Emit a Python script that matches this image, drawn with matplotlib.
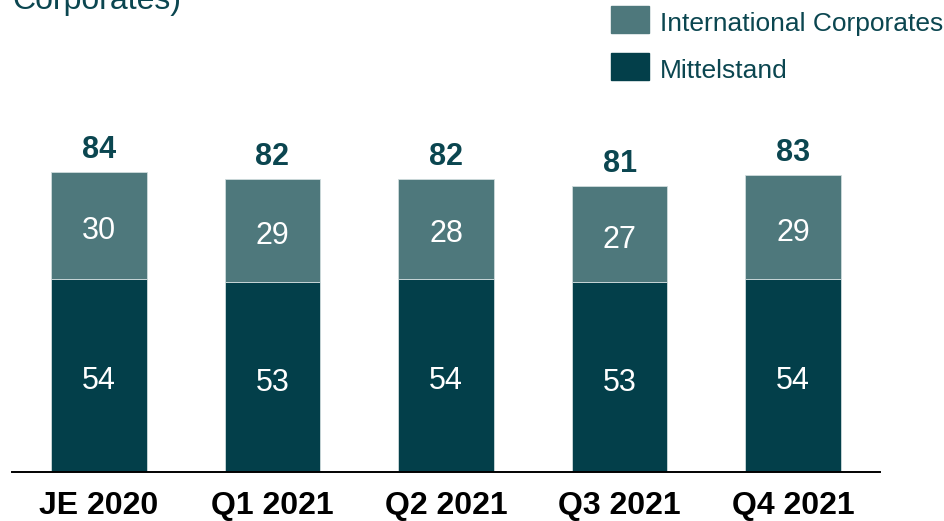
import numpy as np
import matplotlib.pyplot as plt
from matplotlib.patches import Rectangle

plt.rcParams['font.family'] = ['Liberation Sans', 'DejaVu Sans']

# Daten
periods = ['JE 2020', 'Q1 2021', 'Q2 2021', 'Q3 2021', 'Q4 2021']
mittelstand = [54, 53, 54, 53, 54]
international = [30, 29, 28, 27, 29]
totals = [84, 82, 82, 81, 83]
series_names = ['International Corporates', 'Mittelstand']

dark = '#033f4a'
light = '#4e787c'
text_col = '#0b4650'

fig = plt.figure(figsize=(9.45, 5.21), dpi=100)
ax = fig.add_axes([12 / 945, 49 / 521, 868 / 945, 372 / 521])

x = np.arange(len(periods))
w = 0.55
ax.bar(x, mittelstand, w, color=dark, edgecolor='#cfdcdd', linewidth=0.6)
ax.bar(x, international, w, bottom=mittelstand, color=light, edgecolor='#cfdcdd', linewidth=0.6)

for i in range(len(periods)):
    ax.annotate(str(mittelstand[i]), (x[i], mittelstand[i] / 2), xytext=(0, -4),
                textcoords='offset points', ha='center', va='center',
                color='white', fontsize=22)
    ax.annotate(str(international[i]), (x[i], mittelstand[i] + international[i] / 2),
                xytext=(0, -4), textcoords='offset points', ha='center', va='center',
                color='white', fontsize=22)
    ax.annotate(str(totals[i]), (x[i], mittelstand[i] + international[i]),
                xytext=(0, 5), textcoords='offset points', ha='center', va='bottom',
                color=text_col, fontsize=22, fontweight='bold')

ax.set_xlim(-0.5, 4.5)
ax.set_ylim(0, 104)
ax.set_xticks(x)
ax.set_xticklabels(periods, fontsize=23, fontweight='bold')
ax.tick_params(axis='x', length=0, pad=14)
ax.set_yticks([])
for s in ['top', 'right', 'left']:
    ax.spines[s].set_visible(False)
ax.spines['bottom'].set_linewidth(1.4)
ax.spines['bottom'].set_color('black')

# Legende
leg_y = [521 - 33, 521 - 80]
for name, col, y0 in zip(series_names, [light, dark], leg_y):
    fig.patches.append(Rectangle((611 / 945, y0 / 521), 38 / 945, 27 / 521,
                                 transform=fig.transFigure, color=col))
    fig.text(660 / 945, (y0 + 9) / 521, name, ha='left', va='center',
             color=text_col, fontsize=19)

# abgeschnittener Titel
fig.text(12 / 945, 1 - 9 / 521, 'Corporates)', ha='left', va='baseline',
         color=text_col, fontsize=23)

fig.savefig('out.png', dpi=100)
